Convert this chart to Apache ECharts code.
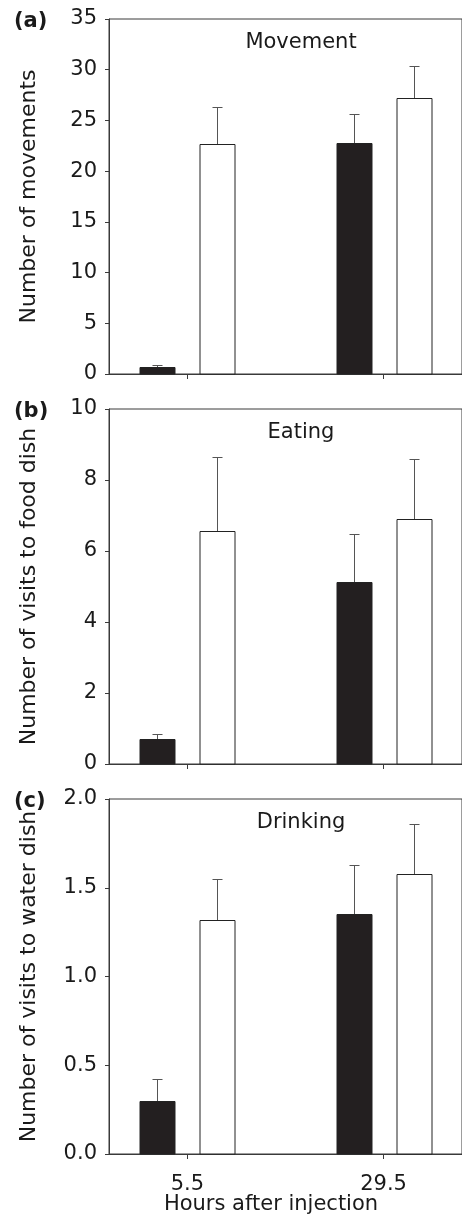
<!DOCTYPE html>
<html>
<head>
<meta charset="utf-8">
<script src="https://cdn.jsdelivr.net/npm/echarts@6/dist/echarts.min.js"></script>
<style>
  html, body { margin: 0; padding: 0; background: #fff; }
  #chart { width: 462px; height: 1230px; }
</style>
</head>
<body>
<div id="chart"></div>
<script>
// hours after injection (x positions of the two groups)
var hours = [5.5, 29.5];
var hourLabels = ['5.5', '29.5'];

// (a) movement
var moveBlack = [0.65, 22.8];
var moveBlackErr = [0.25, 2.8];
var moveWhite = [22.65, 27.2];
var moveWhiteErr = [3.65, 3.2];

// (b) eating
var eatBlack = [0.70, 5.14];
var eatBlackErr = [0.15, 1.33];
var eatWhite = [6.55, 6.90];
var eatWhiteErr = [2.11, 1.68];

// (c) drinking
var drinkBlack = [0.30, 1.35];
var drinkBlackErr = [0.125, 0.28];
var drinkWhite = [1.318, 1.577];
var drinkWhiteErr = [0.23, 0.28];

var panels = [
	{ tag: '(a)', title: 'Movement', yName: 'Number of movements', max: 35, step: 5, digits: 0,
	  black: moveBlack, blackErr: moveBlackErr, white: moveWhite, whiteErr: moveWhiteErr, top: 19 },
	{ tag: '(b)', title: 'Eating', yName: 'Number of visits to food dish', max: 10, step: 2, digits: 0,
	  black: eatBlack, blackErr: eatBlackErr, white: eatWhite, whiteErr: eatWhiteErr, top: 409 },
	{ tag: '(c)', title: 'Drinking', yName: 'Number of visits to water dish', max: 2, step: 0.5, digits: 1,
	  black: drinkBlack, blackErr: drinkBlackErr, white: drinkWhite, whiteErr: drinkWhiteErr, top: 799 }
];

var FONT = 'DejaVu Sans';
var AXIS_COLOR = '#3a3a3a';
var ERR_COLOR = '#555';
var BAR_W = 35;
var CAP = 10;
var PLOT_H = 355;

function barRender(offset, fill) {
	return function (params, api) {
		var x = api.value(0), y = api.value(1), e = api.value(2);
		var top = api.coord([x, y]);
		var base = api.coord([x, 0]);
		var errTop = api.coord([x, y + e]);
		var cx = Math.round(top[0] + offset) + 0.5;
		var ty = Math.round(top[1]) + 0.5;
		var ey = Math.round(errTop[1]) + 0.5;
		return {
			type: 'group',
			children: [
				{ type: 'line', shape: { x1: cx, y1: ty, x2: cx, y2: ey }, style: { stroke: ERR_COLOR, lineWidth: 1 } },
				{ type: 'line', shape: { x1: cx - CAP / 2, y1: ey, x2: cx + CAP / 2, y2: ey }, style: { stroke: ERR_COLOR, lineWidth: 1 } },
				{ type: 'rect', shape: { x: Math.round(cx - BAR_W / 2), y: ty, width: BAR_W, height: base[1] - ty },
				  style: { fill: fill, stroke: '#222', lineWidth: 1 } }
			]
		};
	};
}

function toData(vals, errs) {
	return hours.map(function (h, i) { return [h, vals[i], errs[i]]; });
}

var option = {
	animation: false,
	backgroundColor: '#fff',
	grid: [], xAxis: [], yAxis: [], series: [], graphic: []
};

panels.forEach(function (p, i) {
	var last = i == panels.length - 1;
	option.grid.push({ left: 109, top: p.top, width: 356, height: PLOT_H, show: true,
		borderColor: AXIS_COLOR, borderWidth: 1, backgroundColor: 'transparent' });
	option.xAxis.push({
		type: 'value', gridIndex: i, min: -4.1, max: 39.1,
		axisLine: { onZero: false, lineStyle: { color: AXIS_COLOR, width: 1 } },
		axisTick: { show: true, length: 5, customValues: hours, lineStyle: { color: AXIS_COLOR } },
		axisLabel: { show: last, customValues: hours, margin: 20, fontFamily: FONT, fontSize: 21, color: '#1a1a1a',
			formatter: function (v) { return hourLabels[hours.indexOf(v)]; } },
		splitLine: { show: false }
	});
	option.yAxis.push({
		type: 'value', gridIndex: i, min: 0, max: p.max, interval: p.step,
		name: p.yName, nameLocation: 'middle', nameGap: 69,
		nameTextStyle: { fontFamily: FONT, fontSize: 22, color: '#1a1a1a' },
		axisLine: { show: true, onZero: false, lineStyle: { color: AXIS_COLOR, width: 1 } },
		axisTick: { show: true, length: 4, lineStyle: { color: AXIS_COLOR } },
		axisLabel: { margin: 12, fontFamily: FONT, fontSize: 21, color: '#1a1a1a',
			formatter: function (v) { return v.toFixed(p.digits); } },
		splitLine: { show: false }
	});
	option.series.push({
		type: 'custom', xAxisIndex: i, yAxisIndex: i,
		renderItem: barRender(-30, '#231f20'), data: toData(p.black, p.blackErr)
	});
	option.series.push({
		type: 'custom', xAxisIndex: i, yAxisIndex: i,
		renderItem: barRender(30, '#fff'), data: toData(p.white, p.whiteErr)
	});
	option.graphic.push({ type: 'text', x: 14, y: p.top + 3,
		style: { text: p.tag, font: 'bold 21px "' + FONT + '"', fill: '#1a1a1a', textVerticalAlign: 'middle' } });
	option.graphic.push({ type: 'text', x: 301, y: p.top + 23.5,
		style: { text: p.title, font: '21px "' + FONT + '"', fill: '#1a1a1a', textAlign: 'center', textVerticalAlign: 'middle' } });
});

option.graphic.push({ type: 'text', x: 271, y: 1205,
	style: { text: 'Hours after injection', font: '21px "' + FONT + '"', fill: '#1a1a1a', textAlign: 'center', textVerticalAlign: 'middle' } });

var chart = echarts.init(document.getElementById('chart'));
chart.setOption(option);
</script>
</body>
</html>
